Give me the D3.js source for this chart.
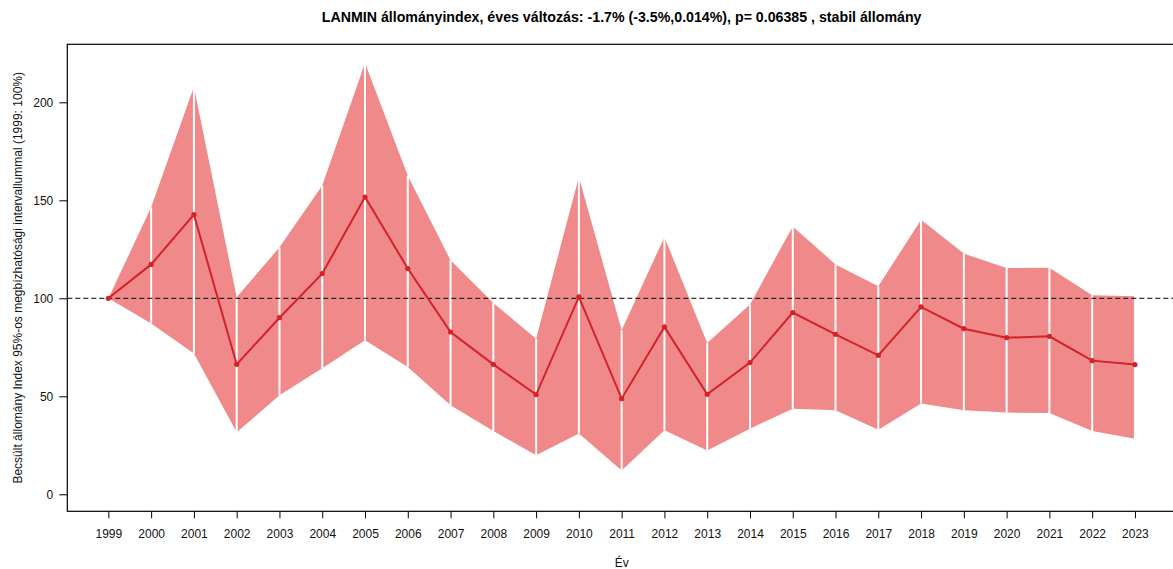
<!DOCTYPE html>
<html>
<head>
<meta charset="utf-8">
<script src="https://cdn.jsdelivr.net/npm/d3@7"></script>
<style>
  html, body { margin: 0; padding: 0; background: #fff; }
  svg { display: block; font-family: "Liberation Sans", Arial, sans-serif; }
</style>
</head>
<body>
<svg id="chart" width="1173" height="569"></svg>
<script>
// Population index with 95% confidence band (1999 = 100%)
const years = [1999, 2000, 2001, 2002, 2003, 2004, 2005, 2006, 2007, 2008, 2009, 2010,
               2011, 2012, 2013, 2014, 2015, 2016, 2017, 2018, 2019, 2020, 2021, 2022, 2023];
const indexValues = [100, 117.3, 142.7, 66.3, 90.1, 112.6, 151.7, 115.2, 82.8, 66.3, 50.9, 100.7,
                     48.8, 85.4, 51.0, 67.2, 92.7, 81.6, 70.9, 95.6, 84.5, 79.9, 80.6, 68.2, 66.2];
const upperValues = [100, 146.4, 208, 100.5, 126, 157.5, 220, 162.5, 119.4, 97.6, 79.4, 161.9,
                     83.7, 131.3, 77.2, 96.8, 136.7, 117.3, 106.1, 140.1, 122.8, 115.5, 115.6, 101.5, 101];
const lowerValues = [100, 87.2, 71.9, 31.6, 50.5, 64.3, 78.6, 65, 45.4, 32.3, 19.9, 31,
                     12.2, 32.7, 22.4, 33.5, 43.7, 42.9, 33, 46.3, 42.9, 41.7, 41.5, 32.3, 28.4];
const yTicks = [0, 50, 100, 150, 200];
const baseline = 100;

const titleText = "LANMIN állományindex, éves változás: -1.7% (-3.5%,0.014%), p= 0.06385 , stabil állomány";
const xLabel = "Év";
const yLabel = "Becsült állomány Index 95%-os megbízhatósági intervallummal (1999: 100%)";

const svg = d3.select("#chart");
const plot = { left: 67.3, right: 1176, top: 44.3, bottom: 511.3 };

const x = d3.scaleLinear().domain([1998.04, 2023.96]).range([plot.left, plot.right]);
const y = d3.scaleLinear().domain([-8.67, 229.6]).range([plot.bottom, plot.top]);

const rows = years.map((yr, i) => ({ yr, v: indexValues[i], lo: lowerValues[i], hi: upperValues[i] }));

// confidence band
const band = d3.area()
  .x(d => x(d.yr))
  .y0(d => y(d.lo))
  .y1(d => y(d.hi));
svg.append("path")
  .datum(rows)
  .attr("d", band)
  .attr("fill", "#f08a8a");

// white separators at each year across the band
svg.append("g").selectAll("line")
  .data(rows)
  .join("line")
  .attr("x1", d => x(d.yr)).attr("x2", d => x(d.yr))
  .attr("y1", d => y(d.lo)).attr("y2", d => y(d.hi))
  .attr("stroke", "#ffffff")
  .attr("stroke-width", 2);

// reference line at 100%
svg.append("line")
  .attr("x1", plot.left).attr("x2", plot.right)
  .attr("y1", y(baseline)).attr("y2", y(baseline))
  .attr("stroke", "#000")
  .attr("stroke-width", 1)
  .attr("stroke-dasharray", "5,3");

// index line and points
const line = d3.line().x(d => x(d.yr)).y(d => y(d.v));
svg.append("path")
  .datum(rows)
  .attr("d", line)
  .attr("fill", "none")
  .attr("stroke", "#d42228")
  .attr("stroke-width", 2);
svg.append("g").selectAll("circle")
  .data(rows)
  .join("circle")
  .attr("cx", d => x(d.yr))
  .attr("cy", d => y(d.v))
  .attr("r", 2.6)
  .attr("fill", "#d42228");

// frame
svg.append("rect")
  .attr("x", plot.left).attr("y", plot.top)
  .attr("width", plot.right - plot.left)
  .attr("height", plot.bottom - plot.top)
  .attr("fill", "none")
  .attr("stroke", "#000")
  .attr("stroke-width", 1.2);

// axes
const xAxis = d3.axisBottom(x).tickValues(years).tickFormat(d3.format("d")).tickSize(7).tickPadding(11);
const gx = svg.append("g").attr("transform", `translate(0,${plot.bottom})`).call(xAxis);
gx.select(".domain").remove();
gx.selectAll("text").attr("font-size", 12).attr("fill", "#111").attr("font-family", "Liberation Sans, Arial, sans-serif");
gx.selectAll("line").attr("stroke", "#000");

const yAxis = d3.axisLeft(y).tickValues(yTicks).tickSize(8).tickPadding(6);
const gy = svg.append("g").attr("transform", `translate(${plot.left},0)`).call(yAxis);
gy.select(".domain").remove();
gy.selectAll("text").attr("font-size", 12).attr("fill", "#111").attr("font-family", "Liberation Sans, Arial, sans-serif");
gy.selectAll("line").attr("stroke", "#000");

// title and axis labels
svg.append("text")
  .attr("x", (plot.left + plot.right) / 2)
  .attr("y", 22)
  .attr("text-anchor", "middle")
  .attr("font-size", 14.2)
  .attr("font-weight", "bold")
  .attr("fill", "#000")
  .text(titleText);

svg.append("text")
  .attr("x", (plot.left + plot.right) / 2)
  .attr("y", 567)
  .attr("text-anchor", "middle")
  .attr("font-size", 12)
  .attr("fill", "#111")
  .text(xLabel);

svg.append("text")
  .attr("transform", `translate(22,${(plot.top + plot.bottom) / 2}) rotate(-90)`)
  .attr("text-anchor", "middle")
  .attr("font-size", 12)
  .attr("fill", "#111")
  .text(yLabel);
</script>
</body>
</html>
